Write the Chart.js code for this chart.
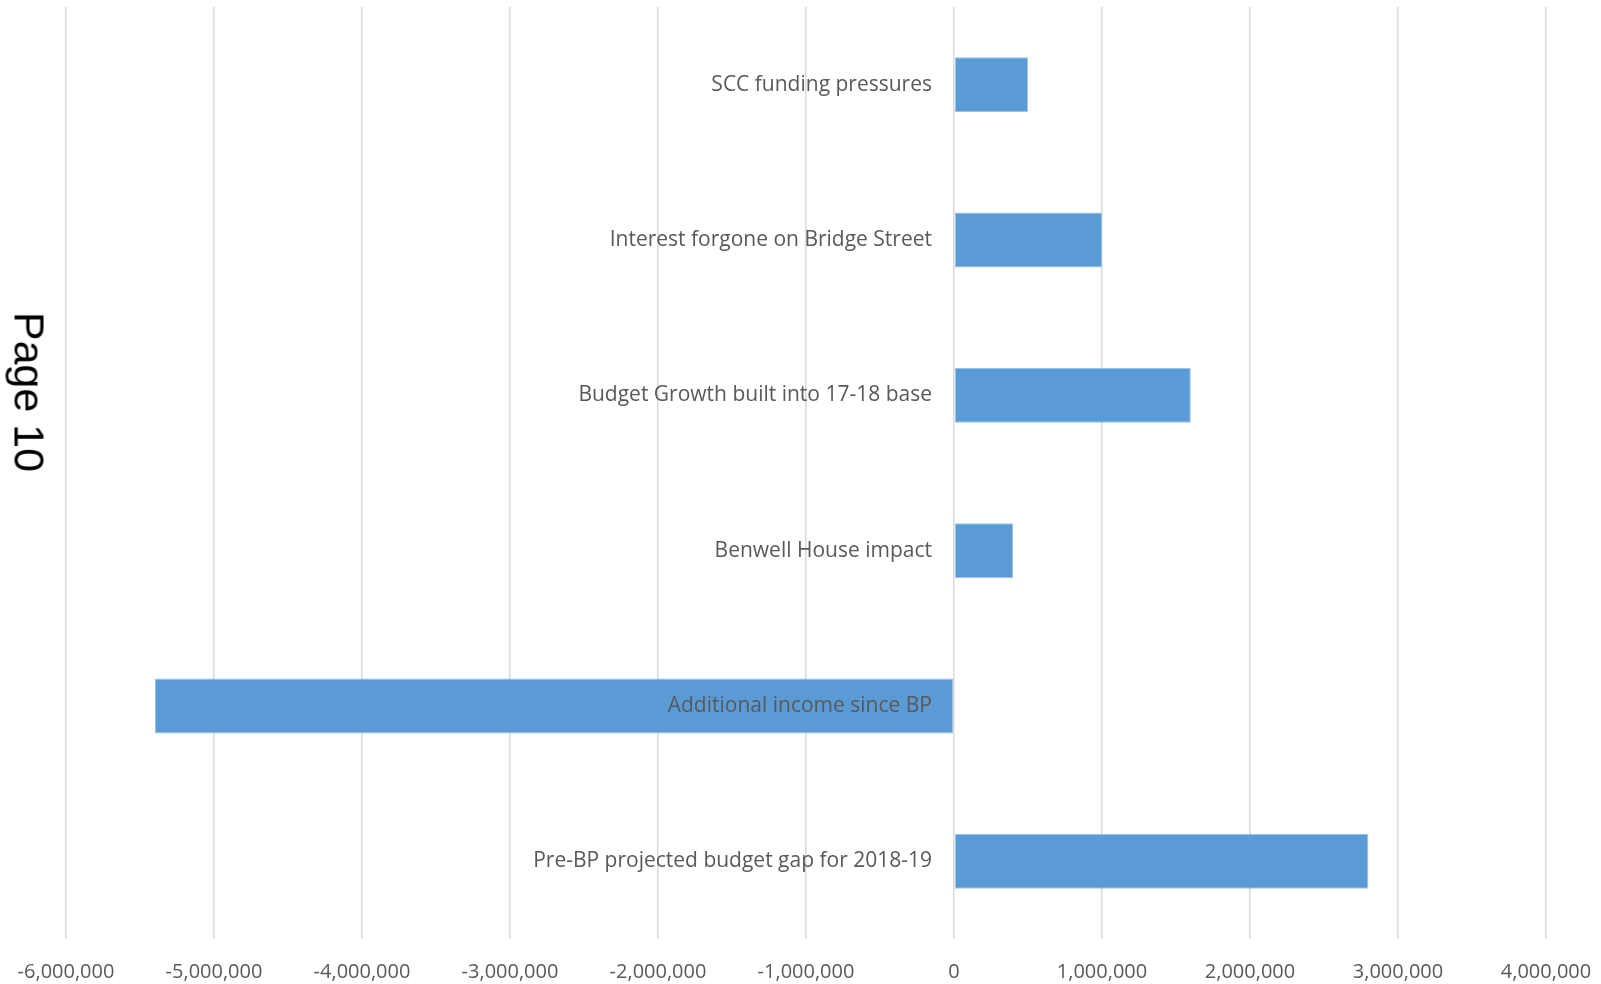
<!DOCTYPE html>
<html>
<head>
<meta charset="utf-8">
<script src="https://cdn.jsdelivr.net/npm/chart.js@4/dist/chart.umd.min.js"></script>
<style>
  body { margin: 0; background: #fff; }
  #wrap { position: relative; width: 1601px; height: 984px; }
  #page-stamp {
    position: absolute;
    left: 29px;
    top: 392px;
    transform: translate(-50%, -50%) rotate(90deg);
    font-family: "Liberation Sans", Arial, sans-serif;
    font-size: 43px;
    color: #000;
    white-space: nowrap;
  }
</style>
</head>
<body>
<div id="wrap">
  <canvas id="budget-chart" width="1601" height="984"></canvas>
  <div id="page-stamp">Page 10</div>
</div>
<script>
const categories = [
  "SCC funding pressures",
  "Interest forgone on Bridge Street",
  "Budget Growth built into 17-18 base",
  "Benwell House impact",
  "Additional income since BP",
  "Pre-BP projected budget gap for 2018-19",
];
const amounts = [500000, 1000000, 1600000, 400000, -5400000, 2800000];
const axisMin = -6000000;
const axisMax = 4000000;
const axisStep = 1000000;

// category labels sit next to the zero line, over the bars (Excel "next to axis")
const labelsAtZero = {
  id: "labelsAtZero",
  afterDatasetsDraw(chart) {
    const { ctx, scales } = chart;
    const x0 = scales.x.getPixelForValue(0);
    ctx.save();
    ctx.font = '21px "Open Sans"';
    ctx.fillStyle = "#595959";
    ctx.textAlign = "right";
    ctx.textBaseline = "middle";
    chart.data.labels.forEach((label, i) => {
      ctx.fillText(label, x0 - 22, scales.y.getPixelForValue(i));
    });
    ctx.restore();
  },
};

new Chart(document.getElementById("budget-chart"), {
  type: "bar",
  data: {
    labels: categories,
    datasets: [
      {
        data: amounts,
        backgroundColor: "#5b9bd5",
        borderColor: "#9dc3e6",
        borderWidth: 1,
        borderSkipped: false,
        categoryPercentage: 1,
        barPercentage: 0.354,
      },
    ],
  },
  options: {
    indexAxis: "y",
    responsive: false,
    animation: false,
    layout: {
      padding: { left: 66, right: 55, top: 7, bottom: 0 },
    },
    scales: {
      x: {
        min: axisMin,
        max: axisMax,
        afterFit: (scale) => {
          scale.height = 45;
          scale.paddingLeft = 0;
          scale.paddingRight = 0;
        },
        ticks: {
          stepSize: axisStep,
          padding: 21,
          color: "#595959",
          font: { family: "Open Sans", size: 20 },
          callback: (v) => v.toLocaleString("en-US"),
        },
        grid: { color: "#d9d9d9", lineWidth: 1.5, drawTicks: false },
        border: { display: false },
      },
      y: {
        display: false,
      },
    },
    plugins: {
      legend: { display: false },
      tooltip: { enabled: false },
    },
  },
  plugins: [labelsAtZero],
});
</script>
</body>
</html>
